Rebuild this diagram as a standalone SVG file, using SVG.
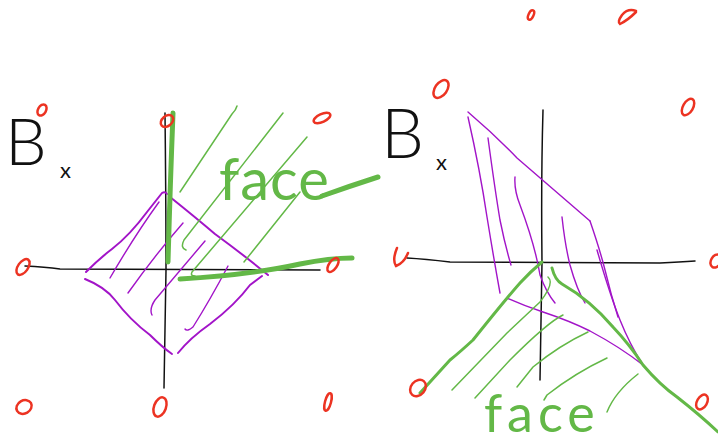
<svg xmlns="http://www.w3.org/2000/svg" width="718" height="444" viewBox="0 0 718 444">
<style>
.ax{fill:none;stroke:#111;stroke-width:1.5;stroke-linecap:round;stroke-linejoin:round}
.pu{fill:none;stroke:#a214c8;stroke-width:2;stroke-linecap:round;stroke-linejoin:round}
.pt{fill:none;stroke:#a214c8;stroke-width:1.4;stroke-linecap:round;stroke-linejoin:round}
.gk{fill:none;stroke:#63b847;stroke-width:5;stroke-linecap:round;stroke-linejoin:round}
.gm{fill:none;stroke:#63b847;stroke-width:3;stroke-linecap:round;stroke-linejoin:round}
.gt{fill:none;stroke:#63b847;stroke-width:1.5;stroke-linecap:round;stroke-linejoin:round}
.rd{fill:none;stroke:#ec3322;stroke-width:2.5;stroke-linecap:round}
.bl{font-family:Lato,"Liberation Sans",sans-serif;font-weight:300;fill:#111}
.sx{font-family:Lato,"Liberation Sans",sans-serif;font-weight:400;fill:#111}
.fc{font-family:Lato,"Liberation Sans",sans-serif;font-weight:400;fill:#63b847}
</style>
<rect width="718" height="444" fill="#fff"/>
<g id="left-panel">
  <path class="ax" d="M25 266 Q45 267 60 269 L320 270"/>
  <path class="ax" d="M165 113 Q166 200 166 270 Q165 330 164 388"/>
  <path class="pu" d="M86 272 Q100 258 112 249 Q130 235 147 212 L162 193 Q165 191 167 194"/>
  <path class="pu" d="M170 197 Q195 217 215 234 Q245 256 268 275"/>
  <path class="pu" d="M85 279 Q105 287 115 300 Q130 320 150 335 Q162 347 172 354"/>
  <path class="pu" d="M178 353 Q190 338 210 324 Q235 305 250 285 L262 276"/>
  <path class="pt" d="M110 278 Q135 235 159 202"/>
  <path class="pt" d="M128 293 Q155 255 183 223"/>
  <path class="pt" d="M152 315 Q149 309 155 300 L205 241"/>
  <path class="pt" d="M185 329 Q187 332 193 327 Q210 300 228 266"/>
  <path class="gt" d="M237 106 Q236 110 232 114 L180 192"/>
  <path class="gt" d="M283 113 L184 240 Q180 248 186 250"/>
  <path class="gt" d="M307 137 L192 272 Q190 276 195 276"/>
  <path class="gt" d="M300 192 L244 262"/>
  <path class="gk" d="M173 113 Q170 190 168 262"/>
  <path class="gk" d="M180 279 Q250 275 300 264 Q330 258 352 258"/>
  <path class="gk" d="M322 196 Q350 186 378 177" stroke-width="4"/>
  <text class="bl" x="5" y="165" font-size="66">B</text>
  <text class="sx" x="60" y="178" font-size="22">x</text>
  <text class="fc" x="219" y="200" font-size="58" letter-spacing="1">face</text>
  <ellipse class="rd" cx="42" cy="110" rx="4" ry="6" transform="rotate(30 42 110)"/>
  <ellipse class="rd" cx="167" cy="121" rx="7" ry="5" stroke-width="3.5" transform="rotate(-40 167 121)"/>
  <ellipse class="rd" cx="322" cy="118" rx="9" ry="4" transform="rotate(-25 322 118)"/>
  <ellipse class="rd" cx="23" cy="267" rx="5" ry="9" transform="rotate(35 23 267)"/>
  <ellipse class="rd" cx="333" cy="265" rx="4" ry="8" transform="rotate(35 333 265)"/>
  <ellipse class="rd" cx="24" cy="407" rx="8" ry="6.5" transform="rotate(-30 24 407)"/>
  <ellipse class="rd" cx="160" cy="407" rx="6" ry="10" transform="rotate(20 160 407)"/>
  <ellipse class="rd" cx="328" cy="402" rx="3" ry="9" transform="rotate(15 328 402)"/>
</g>
<g id="right-panel">
  <path class="ax" d="M407 258 Q425 259 450 262 L660 263 Q680 262 695 261"/>
  <path class="ax" d="M543 110 Q541 180 542 262 Q541 320 540 380"/>
  <path class="pt" d="M468 112 Q495 135 517 158 Q540 178 590 221"/>
  <path class="pt" d="M468 117 Q480 170 487 217 Q494 260 500 293"/>
  <path class="pt" d="M488 138 Q495 190 500 220 Q505 245 511 265"/>
  <path class="pt" d="M515 177 Q514 190 520 205 Q535 245 540 275 Q546 292 555 303"/>
  <path class="pt" d="M562 217 Q565 245 570 265 Q577 290 585 303"/>
  <path class="pt" d="M590 221 Q600 250 605 270 Q611 295 618 317"/>
  <path class="pt" d="M597 250 Q610 295 620 320 Q630 345 643 365"/>
  <path class="pt" d="M507 298 Q525 306 543 312 Q570 321 590 331 Q620 347 643 365"/>
  <path class="gm" d="M542 262 Q530 272 520 283 Q505 300 473 340 Q460 352 450 360 L420 393"/>
  <path class="gm" d="M552 268 Q555 280 562 284 Q590 300 613 327 Q630 345 643 365 Q660 385 677 397 Q700 415 718 432"/>
  <path class="gt" d="M548 277 Q555 283 540 302 L507 333 L452 390"/>
  <path class="gt" d="M563 315 Q548 322 510 360 L475 398"/>
  <path class="gt" d="M588 332 Q560 345 533 367 L517 387"/>
  <path class="gt" d="M607 358 Q575 373 547 395 L544 400"/>
  <path class="gt" d="M638 374 Q615 392 607 412"/>
  <text class="bl" x="381" y="158" font-size="68">B</text>
  <text class="sx" x="436" y="170" font-size="22">x</text>
  <text class="fc" x="484" y="432" font-size="52" letter-spacing="5">face</text>
  <ellipse class="rd" cx="531" cy="15" rx="2.5" ry="5" stroke-width="1.8" transform="rotate(25 531 15)"/>
  <path class="rd" stroke-width="1.8" d="M636 11 Q628 8 622 15 Q617 22 620 24 Q628 20 636 12"/>
  <ellipse class="rd" cx="441" cy="89" rx="6" ry="10" transform="rotate(35 441 89)"/>
  <ellipse class="rd" cx="688" cy="107" rx="5" ry="9" transform="rotate(30 688 107)"/>
  <path class="rd" stroke-width="2" d="M397 248 Q392 260 396 266 Q404 263 408 253"/>
  <ellipse class="rd" cx="716" cy="261" rx="5" ry="7" stroke-width="2" transform="rotate(30 716 261)"/>
  <ellipse class="rd" cx="418" cy="388" rx="7" ry="9" transform="rotate(40 418 388)"/>
  <ellipse class="rd" cx="702" cy="402" rx="5" ry="8" transform="rotate(30 702 402)"/>
</g>
</svg>
